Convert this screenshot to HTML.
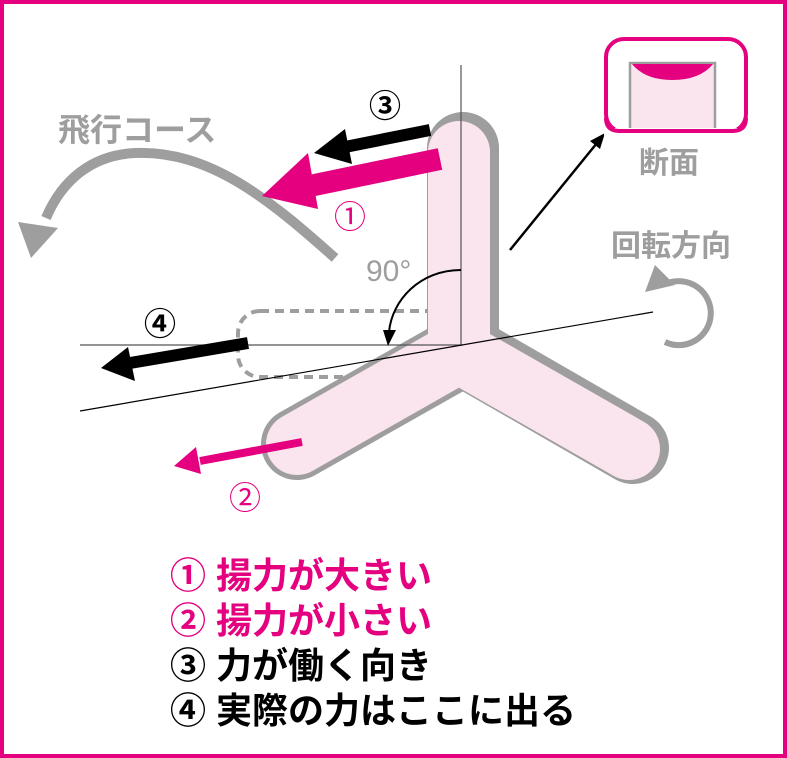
<!DOCTYPE html>
<html><head><meta charset="utf-8"><style>
body{margin:0;background:#fff}
svg{display:block}
text{font-family:"Liberation Sans","Noto Sans CJK JP",sans-serif}
</style></head><body>
<svg width="787" height="758" viewBox="0 0 787 758" xmlns="http://www.w3.org/2000/svg">
<rect x="2" y="2" width="783" height="754" fill="#fff" stroke="#e4007f" stroke-width="4"/>
<rect x="238" y="311" width="220" height="66" rx="22" fill="none" stroke="#9e9e9e" stroke-width="4" stroke-dasharray="9,6"/>
<g fill="none" stroke-linejoin="miter" stroke-linecap="round">
<polyline points="297,444 463,350 633,448" stroke="#9e9e9e" stroke-width="72"/>
<polyline points="463,148 463,350" stroke="#9e9e9e" stroke-width="72"/>
<polyline points="297,444 459,352 629,449" stroke="#fae4ee" stroke-width="62" stroke-linejoin="miter"/>
<polyline points="459,152 459,352" stroke="#fae4ee" stroke-width="62"/>
</g>
<line x1="461" y1="65" x2="461" y2="346" stroke="#555" stroke-width="1.2"/>
<line x1="80" y1="345" x2="461" y2="345" stroke="#555" stroke-width="1.2"/>
<line x1="80" y1="411" x2="653" y2="312" stroke="#000" stroke-width="1.2"/>
<path d="M461,270 C420,270 392,300 389,332" fill="none" stroke="#000" stroke-width="2"/>
<polygon points="383,330 396,330 388,346" fill="#000"/>
<text x="366" y="281" font-size="30" fill="#9e9e9e">90°</text>
<path d="M335,258 C270,200 210,150 135,153 C92,155 62,180 46,218" fill="none" stroke="#9e9e9e" stroke-width="10"/>
<polygon points="18,222 58,228 31,258" fill="#9e9e9e"/>
<text x="58" y="141" font-size="32" font-weight="bold" fill="#9e9e9e">飛行コース</text>
<line x1="430" y1="130" x2="345" y2="147" stroke="#000" stroke-width="12"/>
<polygon points="314,153 345,129 352,164" fill="#000"/>
<line x1="440" y1="159" x2="300" y2="188" stroke="#e4007f" stroke-width="22"/>
<polygon points="262,196 308,153 318,209" fill="#e4007f"/>
<line x1="248" y1="343" x2="130" y2="363" stroke="#000" stroke-width="12"/>
<polygon points="101,368 128,347 135,381" fill="#000"/>
<line x1="302" y1="442" x2="200" y2="461" stroke="#e4007f" stroke-width="8"/>
<polygon points="174,466 196,447 201,474" fill="#e4007f"/>
<text x="369" y="117" font-size="32" font-weight="bold" fill="#000">③</text>
<text x="334" y="228" font-size="32" fill="#e4007f">①</text>
<text x="144" y="335" font-size="32" font-weight="bold" fill="#000">④</text>
<text x="229" y="509" font-size="32" fill="#e4007f">②</text>
<line x1="510" y1="250" x2="597" y2="143" stroke="#000" stroke-width="2.5"/>
<polygon points="605,133 590,141 600,149" fill="#000"/>
<rect x="606" y="39" width="140" height="93" rx="18" fill="none" stroke="#e4007f" stroke-width="4"/>
<rect x="630" y="63" width="85" height="69" fill="#fae4ee" stroke="#9e9e9e" stroke-width="2.5"/>
<path d="M632,64 L713,64 Q700,80 672,80 Q645,80 632,64Z" fill="#e4007f"/>
<rect x="604" y="128" width="144" height="10" fill="#fff"/>
<path d="M606,118 Q606,131 620,131 L732,131 Q746,131 746,118" fill="none" stroke="#e4007f" stroke-width="4"/>
<text x="639" y="173" font-size="30" font-weight="bold" fill="#9e9e9e">断面</text>
<text x="611" y="256" font-size="30" font-weight="bold" fill="#9e9e9e">回転方向</text>
<path d="M668,283 A32,32 0 1 1 665,342" fill="none" stroke="#9e9e9e" stroke-width="6"/>
<polygon points="645,292 655,265 675,285" fill="#9e9e9e"/>
<g font-size="36" font-weight="bold">
<text x="170" y="588" fill="#e4007f">① 揚力が大きい</text>
<text x="170" y="633" fill="#e4007f">② 揚力が小さい</text>
<text x="170" y="678" fill="#000">③ 力が働く向き</text>
<text x="170" y="723" fill="#000">④ 実際の力はここに出る</text>
</g>
</svg>
</body></html>
